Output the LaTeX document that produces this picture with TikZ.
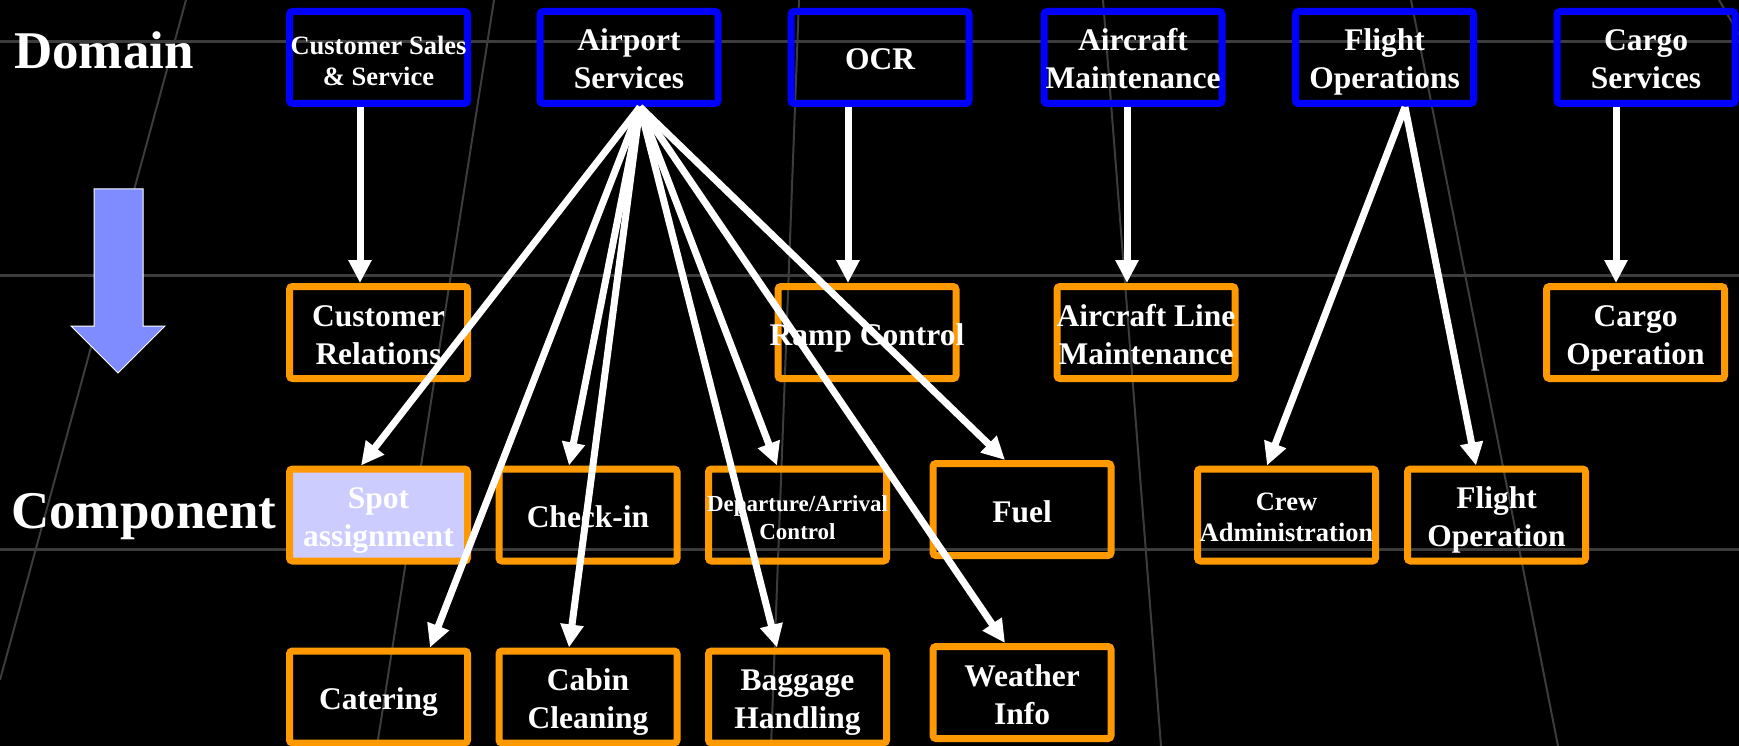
\documentclass[tikz,border=0pt]{standalone}
\usepackage{fontspec}
\setmainfont{Liberation Serif}
\usetikzlibrary{arrows.meta,calc}

\definecolor{domblue}{HTML}{0000FF}
\definecolor{comporange}{HTML}{FF9900}
\definecolor{gridgrey}{HTML}{3C3C3C}
\definecolor{downfill}{HTML}{7F8CFF}
\definecolor{spotfill}{HTML}{CCCCFF}

% fonts for the box texts and the row labels
\newcommand\boxfont{\fontsize{31.5}{38}\selectfont\bfseries}
\newcommand\smallboxfont{\fontsize{26.5}{31}\selectfont\bfseries}
\newcommand\tinyboxfont{\fontsize{23}{28}\selectfont\bfseries}
\newcommand\rowfont{\fontsize{53}{60}\selectfont\bfseries}
% a line that may run past the box border, kept centred
\newcommand\wideline[1]{\makebox[150pt][c]{#1}}
% fixed first-line height and last-line depth, so every box text sits alike
\newcommand\topstrut{\rule{0pt}{33pt}}
\newcommand\botstrut{\rule[-8pt]{0pt}{8pt}}

\begin{document}
\begin{tikzpicture}[x=1pt,y=-1pt,
  box/.style={draw, line width=7pt, rounded corners=3pt,
    minimum width=178pt, minimum height=92pt, inner sep=0pt,
    align=center, text=white, font=\boxfont},
  dombox/.style={box, draw=domblue},
  compbox/.style={box, draw=comporange},
  link/.style={draw=white, line width=7pt,
    -{Triangle[width=22pt,length=23pt]}},
  gridline/.style={draw=gridgrey, line width=3pt},
  slant/.style={draw=gridgrey, line width=2pt},
  rowlabel/.style={anchor=base west, text=white, font=\rowfont, inner sep=0pt},
]
% canvas
\fill[black] (0,0) rectangle (1739,746);
\useasboundingbox (0,0) rectangle (1739,746);

% background grid
\draw[gridline] (0,42) -- (1739,42);
\draw[gridline] (0,275) -- (1739,275);
\draw[gridline] (0,549) -- (1739,549);
\draw[slant] (186,0) -- (0,680);
\draw[slant] (494,0) -- (377,746);
\draw[slant] (799,0) -- (771,746);
\draw[slant] (1103,0) -- (1161,746);
\draw[slant] (1411,0) -- (1558,746);
\draw[slant] (1719,0) -- (1740,36);

% downward block arrow from domain to component
\filldraw[fill=downfill, draw=white, line width=1pt]
  (94,189) -- (143,189) -- (143,326) -- (165,326) -- (118,373)
  -- (71,326) -- (94,326) -- cycle;

% row labels
\node[rowlabel] (domlbl) at (14,69) {Domain};
\node[rowlabel] (complbl) at (11,528) {Component};

% domain boxes
\node[dombox, font=\smallboxfont] (css) at (378.5,57.5) {\topstrut Customer Sales\\\& Service\botstrut};
\node[dombox] (as) at (629,57.5) {\topstrut Airport\\Services\botstrut};
\node[dombox] (ocr) at (880,57.5) {\topstrut OCR\botstrut};
\node[dombox] (am) at (1133,57.5) {\topstrut Aircraft\\\wideline{Maintenance}\botstrut};
\node[dombox] (fo) at (1384.5,57.5) {\topstrut Flight\\Operations\botstrut};
\node[dombox] (cs) at (1646,57.5) {\topstrut Cargo\\Services\botstrut};

% first component row
\node[compbox] (crel) at (378.5,332.5) {\topstrut Customer\\Relations\botstrut};
\node[compbox] (ramp) at (867,332.5) {\topstrut\wideline{Ramp Control}\botstrut};
\node[compbox] (acl) at (1146,332.5) {\topstrut\wideline{Aircraft Line}\\\wideline{Maintenance}\botstrut};
\node[compbox] (cop) at (1635.5,332.5) {\topstrut Cargo\\Operation\botstrut};

% second component row
\node[compbox, fill=spotfill] (spot) at (378.5,515) {\topstrut Spot\\assignment\botstrut};
\node[compbox] (chk) at (588,515) {\topstrut Check-in\botstrut};
\node[compbox, font=\tinyboxfont] (dep) at (797.5,515) {\rule{0pt}{29pt}\wideline{Departure/Arrival}\\Control\botstrut};
\node[compbox] (fuel) at (1022,509.5) {\topstrut Fuel\botstrut};
\node[compbox, font=\smallboxfont] (crew) at (1286.5,515) {\rule{0pt}{30pt}Crew\\\wideline{Administration}\botstrut};
\node[compbox] (flop) at (1496.5,515) {\topstrut Flight\\Operation\botstrut};

% third component row
\node[compbox] (cat) at (378.5,697) {\topstrut Catering\botstrut};
\node[compbox] (cab) at (588,697) {\topstrut Cabin\\Cleaning\botstrut};
\node[compbox] (bag) at (797.5,697) {\topstrut Baggage\\Handling\botstrut};
\node[compbox] (wea) at (1022,692.5) {\topstrut Weather\\Info\botstrut};

% single links
\draw[link] ([xshift=-18.5pt]css.south) -- ([xshift=-18.5pt]crel.north);
\draw[link] ([xshift=-32pt]ocr.south) -- ([xshift=-19pt]ramp.north);
\draw[link] ([xshift=-6pt]am.south) -- ([xshift=-19pt]acl.north);
\draw[link] ([xshift=-30pt]cs.south) -- ([xshift=-19.5pt]cop.north);

% airport services fan
\coordinate (asout) at ([xshift=11pt]as.south);
\draw[link] (asout) -- ([xshift=-17.5pt]spot.north);
\draw[link] (asout) -- ([xshift=51.5pt]cat.north);
\draw[link] (asout) -- ([xshift=-19pt]chk.north);
\draw[link] (asout) -- ([xshift=-19pt]cab.north);
\draw[link] (asout) -- ([xshift=-20.5pt]dep.north);
\draw[link] (asout) -- ([xshift=-20.5pt]bag.north);
\draw[link] (asout) -- ([xshift=-17pt]fuel.north);
\draw[link] (asout) -- ([xshift=-17pt]wea.north);

% flight operations fan
\coordinate (foout) at ([xshift=20.5pt]fo.south);
\draw[link] (foout) -- ([xshift=-19.5pt]crew.north);
\draw[link] (foout) -- ([xshift=-20.5pt]flop.north);
\end{tikzpicture}
\end{document}
